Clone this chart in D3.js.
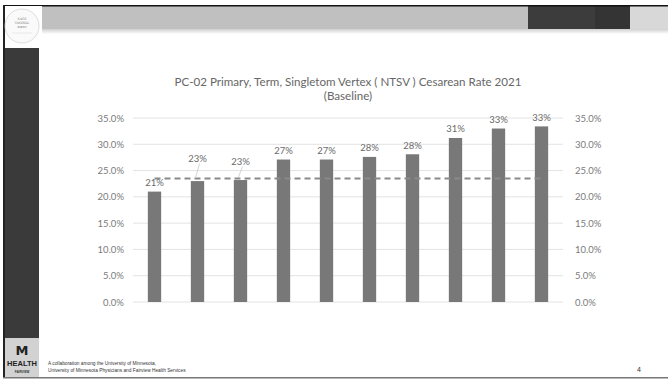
<!DOCTYPE html>
<html>
<head>
<meta charset="utf-8">
<script src="https://cdn.jsdelivr.net/npm/d3@7"></script>
<style>
  html, body { margin: 0; padding: 0; background: #fff; }
  svg { display: block; }
</style>
</head>
<body>
<svg id="c" width="668" height="379"></svg>
<script>
// ---- data ----
const categories = ["A", "B", "C", "D", "E", "F", "G", "H", "I", "J"];
const rates = [0.210, 0.230, 0.232, 0.271, 0.271, 0.276, 0.281, 0.312, 0.330, 0.334];
const rateLabels = ["21%", "23%", "23%", "27%", "27%", "28%", "28%", "31%", "33%", "33%"];
const baseline = 0.235;
const yTicks = [0, 0.05, 0.10, 0.15, 0.20, 0.25, 0.30, 0.35];
const titleLines = ["PC-02 Primary, Term, Singletom Vertex ( NTSV ) Cesarean Rate 2021", "(Baseline)"];
const footerLines = ["A collaboration  among the University of Minnesota,", "University of Minnesota  Physicians and Fairview Health Services"];
const pageNumber = "4";

const svg = d3.select("#c");
const FONT = "Lato, 'Open Sans', sans-serif";

// ---- slide chrome ----
const defs = svg.append("defs");
const sh = defs.append("linearGradient").attr("id", "shadow").attr("x1", 0).attr("y1", 0).attr("x2", 0).attr("y2", 1);
sh.append("stop").attr("offset", 0).attr("stop-color", "#cfcfcf");
sh.append("stop").attr("offset", 1).attr("stop-color", "#ffffff");

svg.append("rect").attr("x", 40).attr("y", 6).attr("width", 628).attr("height", 23).attr("fill", "#c0c0c0");
svg.append("rect").attr("x", 40).attr("y", 29).attr("width", 628).attr("height", 5).attr("fill", "url(#shadow)");
svg.append("rect").attr("x", 528).attr("y", 6).attr("width", 67).attr("height", 23).attr("fill", "#3c3c3c");
svg.append("rect").attr("x", 595).attr("y", 6).attr("width", 35).attr("height", 23).attr("fill", "#343434");
svg.append("rect").attr("x", 630).attr("y", 6).attr("width", 38).attr("height", 23).attr("fill", "#d8d8d8");
svg.append("rect").attr("x", 3).attr("y", 5).attr("width", 665).attr("height", 1.5).attr("fill", "#111");
svg.append("rect").attr("x", 3).attr("y", 5).attr("width", 2).attr("height", 373).attr("fill", "#222");
svg.append("rect").attr("x", 3).attr("y", 377).attr("width", 665).attr("height", 1.5).attr("fill", "#777");

// left dark bar
svg.append("rect").attr("x", 5).attr("y", 48).attr("width", 34).attr("height", 290).attr("fill", "#3a3a3a");

// top logo
svg.append("rect").attr("x", 5).attr("y", 6).attr("width", 37).attr("height", 42).attr("fill", "#fff");
svg.append("circle").attr("cx", 22).attr("cy", 26).attr("r", 17).attr("fill", "#fafafa").attr("stroke", "#d4d4d4").attr("stroke-width", 0.8);
[["SAFE", 20, 3.2], ["VAGINAL", 24, 3.0], ["BIRTH", 28, 2.6]].forEach(([t, y, s]) => {
  svg.append("text").attr("x", 22).attr("y", y).attr("text-anchor", "middle")
    .attr("font-family", "'DejaVu Serif', serif").attr("font-size", s).attr("fill", "#777").text(t);
});
svg.append("line").attr("x1", 12).attr("x2", 32).attr("y1", 33).attr("y2", 33).attr("stroke", "#ddd").attr("stroke-width", 0.6);

// bottom-left logo
svg.append("rect").attr("x", 5).attr("y", 338).attr("width", 34).attr("height", 39).attr("fill", "#d2d2d2");
svg.append("text").attr("x", 22).attr("y", 355).attr("text-anchor", "middle")
  .attr("font-family", "'DejaVu Sans', sans-serif").attr("font-weight", "bold").attr("font-size", 13).attr("fill", "#222").text("M");
svg.append("text").attr("x", 22).attr("y", 366).attr("text-anchor", "middle")
  .attr("font-family", "'Liberation Sans', Arial, sans-serif").attr("font-weight", "bold").attr("font-size", 7.5).attr("fill", "#222").text("HEALTH");
svg.append("text").attr("x", 22).attr("y", 372.5).attr("text-anchor", "middle")
  .attr("font-family", "'Liberation Sans', Arial, sans-serif").attr("font-weight", "bold").attr("font-size", 3).attr("fill", "#333").text("FAIRVIEW");

// footer
footerLines.forEach((t, i) => {
  svg.append("text").attr("x", 48).attr("y", 365 + i * 6.5)
    .attr("font-family", "'Liberation Sans', Arial, sans-serif").attr("font-size", 4.8).attr("fill", "#333").text(t);
});
svg.append("text").attr("x", 637).attr("y", 372)
  .attr("font-family", "'Liberation Sans', Arial, sans-serif").attr("font-size", 7).attr("fill", "#333").text(pageNumber);

// ---- chart ----
const x = d3.scaleBand().domain(categories).range([133, 563]).paddingInner(0.69).paddingOuter(0.345);
const y = d3.scaleLinear().domain([0, 0.35]).range([302, 118]);
const fmt = d3.format(".1%");

const g = svg.append("g");

// gridlines
g.selectAll("line.grid").data(yTicks).join("line")
  .attr("x1", 133).attr("x2", 563)
  .attr("y1", d => y(d)).attr("y2", d => y(d))
  .attr("stroke", "#e3e3e3").attr("stroke-width", 1);

// left axis
const leftAxis = g.append("g").attr("transform", "translate(133,0)")
  .call(d3.axisLeft(y).tickValues(yTicks).tickFormat(fmt).tickSize(0).tickPadding(9));
leftAxis.select(".domain").remove();
leftAxis.selectAll("text").attr("font-family", FONT).attr("font-size", 9.5).attr("fill", "#7a7a7a");

// right axis
const rightAxis = g.append("g").attr("transform", "translate(563,0)")
  .call(d3.axisRight(y).tickValues(yTicks).tickFormat(fmt).tickSize(0).tickPadding(12));
rightAxis.select(".domain").remove();
rightAxis.selectAll("text").attr("font-family", FONT).attr("font-size", 9.5).attr("fill", "#7a7a7a");

// bars
g.selectAll("rect.bar").data(rates).join("rect")
  .attr("class", "bar")
  .attr("x", (d, i) => x(categories[i]))
  .attr("width", x.bandwidth())
  .attr("y", d => y(d))
  .attr("height", d => y(0) - y(d))
  .attr("fill", "#787878");

// baseline dashed line
const first = x(categories[0]) + x.bandwidth() / 2;
const last = x(categories[categories.length - 1]) + x.bandwidth() / 2;
g.append("line")
  .attr("x1", first).attr("x2", last)
  .attr("y1", y(baseline)).attr("y2", y(baseline))
  .attr("stroke", "#8a8a8a").attr("stroke-width", 2).attr("stroke-dasharray", "6,4");

// data labels (two lifted with leader lines)
const lift = {1: 14, 2: 10};
rates.forEach((v, i) => {
  const cx = x(categories[i]) + x.bandwidth() / 2;
  const ly = y(v) - 5.5 - (lift[i] || 0);
  if (lift[i]) {
    g.append("line").attr("x1", cx + 2).attr("y1", ly + 2).attr("x2", cx - 2).attr("y2", y(v) - 3)
      .attr("stroke", "#c8c8c8").attr("stroke-width", 0.8);
  }
  g.append("text").attr("x", cx).attr("y", ly).attr("text-anchor", "middle")
    .attr("font-family", FONT).attr("font-size", 9.5).attr("fill", "#6a6a6a").text(rateLabels[i]);
});

// title
titleLines.forEach((t, i) => {
  svg.append("text").attr("x", 348).attr("y", 86 + i * 14).attr("text-anchor", "middle")
    .attr("font-family", FONT).attr("font-size", 11.6).attr("fill", "#666").text(t);
});
</script>
</body>
</html>
